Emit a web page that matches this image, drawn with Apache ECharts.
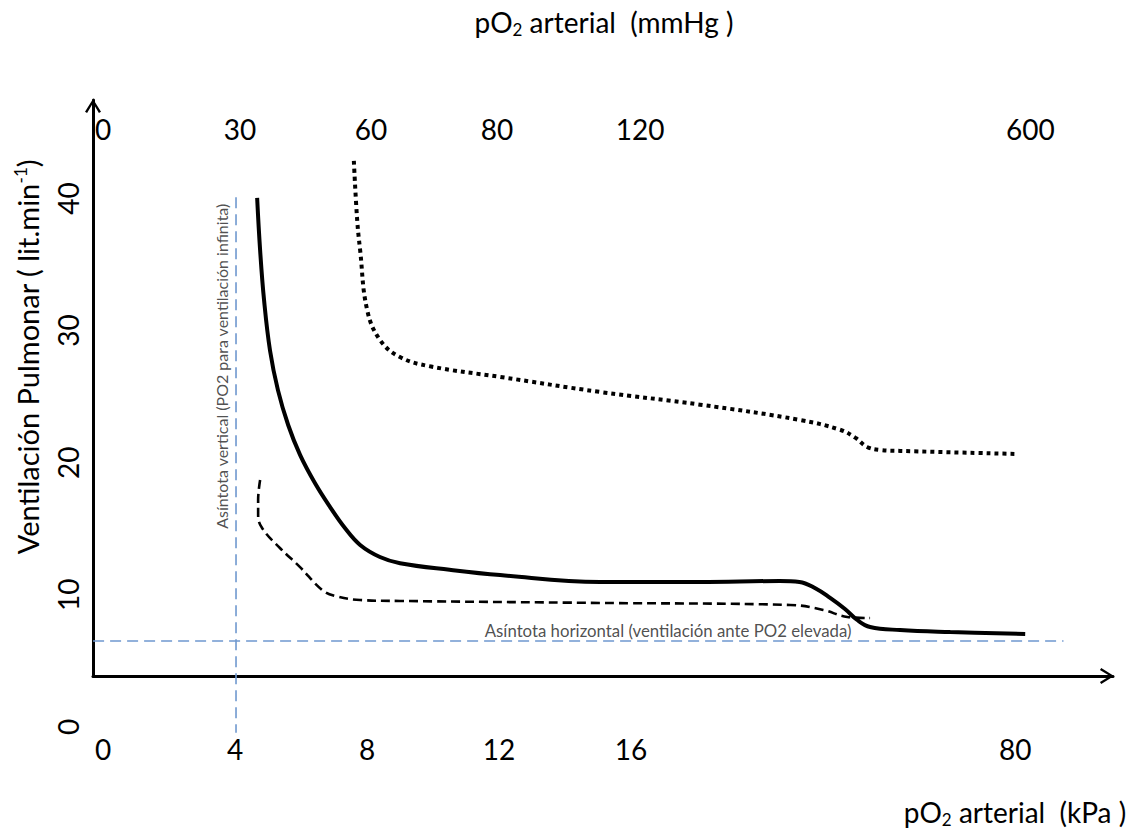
<!DOCTYPE html>
<html>
<head>
<meta charset="utf-8">
<script src="https://cdn.jsdelivr.net/npm/echarts@6/dist/echarts.min.js"></script>
<style>html,body{margin:0;padding:0;background:#fff}#c{width:1144px;height:830px}</style>
</head>
<body>
<div id="c"></div>
<script>
// Axis positions (x in chart position units, 0..16 = kPa, compressed beyond)
const kpaTicks = [0, 4, 8, 12, 16, 27.64];
const kpaLabels = ['0', '4', '8', '12', '16', '80'];
const mmhgTicks = [0, 4.15, 8.12, 11.94, 16.27, 28.1];
const mmhgLabels = ['0', '30', '60', '80', '120', '600'];
const yTicks = [0, 10, 20, 30, 40];

// Curves [x, ventilación (lit/min)]
const solidCurve = [
  [4.67, 40.05], [4.76, 36.1], [4.88, 32.3], [5.06, 28.5], [5.30, 25.5], [5.61, 22.86],
  [5.97, 20.6], [6.42, 18.47], [6.88, 16.65], [7.33, 15.06], [7.79, 13.78], [8.39, 12.87],
  [9.0, 12.4], [10.5, 11.9], [12.03, 11.5], [15.06, 10.98], [18.09, 10.98], [20.5, 11.05],
  [21.1, 10.98], [21.58, 10.5], [22.03, 9.77], [22.48, 8.93], [22.85, 8.1], [23.24, 7.57],
  [24.15, 7.34], [25.67, 7.19], [27.94, 7.04]
];
const dashedCurve = [
  [4.76, 18.7], [4.7, 17.2], [4.7, 16.05], [4.82, 15.06], [5.36, 13.55], [5.97, 12.1],
  [6.64, 10.37], [7.03, 9.92], [7.79, 9.61], [9.0, 9.54], [15.06, 9.39], [20.82, 9.24],
  [21.82, 8.86], [22.55, 8.33], [23.24, 8.25]
];
const dottedCurve = [
  [7.6, 42.85], [7.7, 38.4], [7.79, 36.1], [8.0, 31.6], [8.39, 29.3], [9.0, 28.0],
  [9.91, 27.3], [12.03, 26.5], [15.06, 25.36], [18.09, 24.4], [21.12, 23.24],
  [22.33, 22.5], [22.79, 21.9], [23.15, 21.2], [23.55, 20.97], [24.15, 20.9], [27.64, 20.67]
];
const vAsymptote = [[4.03, 40.1], [4.03, -0.45]];
const hAsymptote = [[-0.3, 6.51], [29.1, 6.51]];
const vAsymLabel = [[3.6, 27.3]];
const hAsymLabel = [[17.12, 7.3]];

const FONT = 'Lato, "Open Sans", sans-serif';
const XMIN = -0.303, XMAX = 30.6;
const arrow = 'path://M0,16 L10,0 L20,16 L17.4,17.6 L10,5.2 L2.6,17.6 Z';
const asymColor = '#6f98cf';
const BIG = 28, SUB = 17;

const chart = echarts.init(document.getElementById('c'), null, {renderer: 'svg'});
chart.setOption({
  animation: false,
  backgroundColor: '#fff',
  textStyle: {fontFamily: FONT},
  grid: [
    {left: 93, right: 31, top: 100, bottom: 154},
    {left: 93, right: 31, top: 100, bottom: 90}
  ],
  xAxis: [
    {
      gridIndex: 0, type: 'value', min: XMIN, max: XMAX, position: 'bottom',
      axisLine: {show: true, onZero: false, symbol: ['none', arrow], symbolSize: [16, 15], symbolOffset: [0, -6],
        lineStyle: {color: '#000', width: 3}},
      axisTick: {show: false}, splitLine: {show: false},
      axisLabel: {customValues: kpaTicks, margin: 59, fontSize: BIG, color: '#000', fontFamily: FONT,
        formatter: v => kpaLabels[kpaTicks.indexOf(v)]}
    },
    {
      gridIndex: 0, type: 'value', min: XMIN, max: XMAX, position: 'top',
      axisLine: {show: false}, axisTick: {show: false}, splitLine: {show: false},
      axisLabel: {inside: true, customValues: mmhgTicks, margin: 15, fontSize: BIG, color: '#000', fontFamily: FONT,
        formatter: v => mmhgLabels[mmhgTicks.indexOf(v)]}
    },
    {
      gridIndex: 1, type: 'value', min: XMIN, max: XMAX, show: false
    }
  ],
  yAxis: [
    {
      gridIndex: 0, type: 'value', min: 3.86, max: 47.46,
      axisLine: {show: true, onZero: false, symbol: ['none', arrow], symbolSize: [16, 15], symbolOffset: [0, -6],
        lineStyle: {color: '#000', width: 3}},
      axisTick: {show: false}, splitLine: {show: false}, axisLabel: {show: false}
    },
    {
      gridIndex: 1, type: 'value', min: -1, max: 47.46,
      axisLine: {show: false}, axisTick: {show: false}, splitLine: {show: false},
      axisLabel: {customValues: yTicks, rotate: 90, margin: 11, fontSize: BIG, color: '#000', fontFamily: FONT}
    }
  ],
  graphic: [
    {type: 'text', x: 604, y: 22, style: {
      text: '{a|pO}{s|2}{a| arterial  (mmHg )}', align: 'center', verticalAlign: 'middle',
      rich: {a: {fontSize: BIG, fontFamily: FONT, fill: '#000'}, s: {fontSize: SUB, fontFamily: FONT, fill: '#000', padding: [14, 0, 0, 0]}}
    }},
    {type: 'text', x: 1015, y: 812, style: {
      text: '{a|pO}{s|2}{a| arterial  (kPa )}', align: 'center', verticalAlign: 'middle',
      rich: {a: {fontSize: BIG, fontFamily: FONT, fill: '#000'}, s: {fontSize: SUB, fontFamily: FONT, fill: '#000', padding: [14, 0, 0, 0]}}
    }},
    {type: 'text', x: 27, y: 357, rotation: Math.PI / 2, style: {
      text: '{a|Ventilación Pulmonar ( lit.min}{s|-1}{a|)}', align: 'center', verticalAlign: 'middle',
      rich: {a: {fontSize: 29, fontFamily: FONT, fill: '#000'}, s: {fontSize: SUB, fontFamily: FONT, fill: '#000', padding: [0, 0, 14, 0]}}
    }}
  ],
  series: [
    {type: 'line', name: 'asintota horizontal', xAxisIndex: 0, yAxisIndex: 0, data: hAsymptote, symbol: 'none',
      lineStyle: {color: asymColor, width: 1.6, type: [11, 6]}, z: 1},
    {type: 'line', name: 'asintota vertical', xAxisIndex: 2, yAxisIndex: 1, data: vAsymptote, symbol: 'none',
      lineStyle: {color: asymColor, width: 1.6, type: [11, 6]}, z: 1},
    {type: 'line', name: 'continua', xAxisIndex: 0, yAxisIndex: 0, data: solidCurve, symbol: 'none', smooth: 0.4,
      lineStyle: {color: '#000', width: 4}, z: 3},
    {type: 'line', name: 'discontinua', xAxisIndex: 0, yAxisIndex: 0, data: dashedCurve, symbol: 'none', smooth: 0.4,
      lineStyle: {color: '#000', width: 2.6, type: [9, 5]}, z: 3},
    {type: 'line', name: 'punteada', xAxisIndex: 0, yAxisIndex: 0, data: dottedCurve, symbol: 'none', smooth: 0.4,
      lineStyle: {color: '#000', width: 4, type: [4, 4], cap: 'butt'}, z: 3},
    {type: 'scatter', xAxisIndex: 2, yAxisIndex: 1, data: vAsymLabel, symbolSize: 0, silent: true, z: 4,
      label: {show: true, position: 'inside', rotate: 90, fontSize: 16, color: '#222', fontFamily: FONT,
        formatter: 'Asíntota vertical (PO2 para ventilación infinita)'}},
    {type: 'scatter', xAxisIndex: 0, yAxisIndex: 0, data: hAsymLabel, symbolSize: 0, silent: true, z: 4,
      label: {show: true, position: 'inside', fontSize: 16.8, color: '#222', fontFamily: FONT,
        formatter: 'Asíntota horizontal (ventilación ante PO2 elevada)'}}
  ]
});
</script>
</body>
</html>
